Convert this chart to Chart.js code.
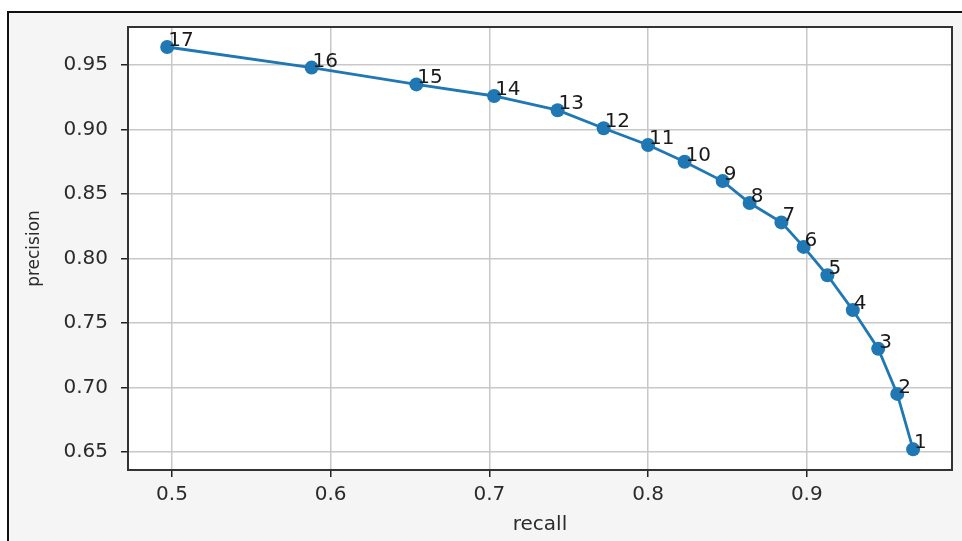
<!DOCTYPE html>
<html>
<head>
<meta charset="utf-8">
<script src="https://cdn.jsdelivr.net/npm/chart.js@4.4.1/dist/chart.umd.min.js"></script>
<style>
  html, body { margin: 0; padding: 0; background: #fff; }
  #frame {
    position: absolute; left: 7px; top: 11px; width: 960px; height: 535px;
    background: #f5f5f5; border-top: 2px solid #111; border-left: 2px solid #111;
  }
  #prCanvas { position: absolute; left: 0; top: 0; }
</style>
</head>
<body>
<div id="frame"></div>
<canvas id="prCanvas" width="962" height="541"></canvas>
<script>
// values, threshold index 1..17
const pointLabels = ['1','2','3','4','5','6','7','8','9','10','11','12','13','14','15','16','17'];
const recall = [0.967, 0.957, 0.945, 0.929, 0.913, 0.898, 0.884, 0.864, 0.847, 0.823, 0.800, 0.772, 0.743, 0.703, 0.654, 0.588, 0.497];
const precision = [0.652, 0.695, 0.730, 0.760, 0.787, 0.809, 0.828, 0.843, 0.860, 0.875, 0.888, 0.901, 0.915, 0.926, 0.935, 0.948, 0.964];

const xTicks = [0.5, 0.6, 0.7, 0.8, 0.9];
const yTicks = [0.65, 0.70, 0.75, 0.80, 0.85, 0.90, 0.95];

const blue = '#1f77b4';
const font = 'DejaVu Sans';

// white plot area + full box round it
const plotBox = {
    id: 'plotBox',
    beforeDraw(chart) {
        const a = chart.chartArea;
        const ctx = chart.ctx;
        ctx.save();
        ctx.fillStyle = '#fff';
        ctx.fillRect(a.left, a.top, a.right - a.left, a.bottom - a.top);
        ctx.restore();
    },
    afterDatasetsDraw(chart) {
        const a = chart.chartArea;
        const ctx = chart.ctx;
        ctx.save();
        ctx.strokeStyle = '#333';
        ctx.lineWidth = 2;
        ctx.strokeRect(a.left, a.top, a.right - a.left, a.bottom - a.top);
        ctx.restore();
    }
};

// number next to each point, like plt.annotate
const annotate = {
    id: 'annotate',
    afterDatasetsDraw(chart) {
        const ctx = chart.ctx;
        const meta = chart.getDatasetMeta(0);
        ctx.save();
        ctx.font = '20px "' + font + '"';
        ctx.fillStyle = '#1a1a1a';
        ctx.textAlign = 'left';
        ctx.textBaseline = 'alphabetic';
        meta.data.forEach(function (pt, i) {
            ctx.fillText(pointLabels[i], pt.x + 1, pt.y - 1);
        });
        ctx.restore();
    }
};

const gridOpts = { color: '#c8c8c8', lineWidth: 1.5, drawTicks: true, tickLength: 7, tickColor: '#222', tickWidth: 1.5 };

new Chart(document.getElementById('prCanvas').getContext('2d'), {
    type: 'scatter',
    data: {
        datasets: [{
            data: recall.map((r, i) => ({x: r, y: precision[i]})),
            showLine: true,
            borderColor: blue,
            borderWidth: 2.8,
            backgroundColor: blue,
            pointRadius: 7,
            pointHoverRadius: 7,
            pointBorderWidth: 0
        }]
    },
    options: {
        responsive: false,
        animation: false,
        devicePixelRatio: 1,
        layout: { padding: { left: 0, top: 27, right: 10, bottom: 0 } },
        plugins: { legend: { display: false }, tooltip: { enabled: false } },
        scales: {
            x: {
                type: 'linear',
                min: 0.4723,
                max: 0.9915,
                afterFit(s) { s.height = 71; },
                afterBuildTicks(s) { s.ticks = xTicks.map(v => ({value: v})); },
                grid: gridOpts,
                border: { display: false },
                ticks: {
                    autoSkip: false,
                    maxRotation: 0,
                    padding: 6,
                    color: '#2b2b2b',
                    font: { family: font, size: 20 },
                    callback: v => String(v)
                },
                title: {
                    display: true, text: 'recall', color: '#2b2b2b',
                    font: { family: font, size: 20 },
                    padding: { top: 0, bottom: 4 }
                }
            },
            y: {
                type: 'linear',
                min: 0.636,
                max: 0.9795,
                afterFit(s) { s.width = 128; },
                afterBuildTicks(s) { s.ticks = yTicks.map(v => ({value: v})); },
                grid: gridOpts,
                border: { display: false },
                ticks: {
                    autoSkip: false,
                    padding: 13,
                    color: '#2b2b2b',
                    font: { family: font, size: 20 },
                    callback: v => v.toFixed(2)
                },
                title: {
                    display: true, text: 'precision', color: '#2b2b2b',
                    font: { family: font, size: 17 },
                    padding: { top: 24, bottom: 0 }
                }
            }
        }
    },
    plugins: [plotBox, annotate]
});
</script>
</body>
</html>
